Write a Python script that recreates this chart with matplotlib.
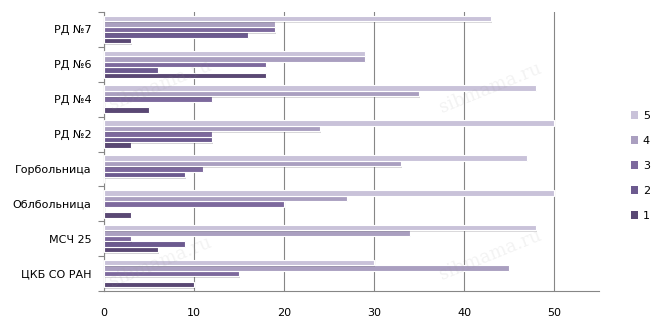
## horizontal grouped bars, hospitals by score
import numpy as np
import matplotlib
matplotlib.use('Agg')
import matplotlib.pyplot as plt
import matplotlib.patheffects as pe
from matplotlib.patches import Patch

# categories listed top -> bottom as in the picture
categories = ['РД №7', 'РД №6', 'РД №4', 'РД №2', 'Горбольница', 'Облбольница', 'МСЧ 25', 'ЦКБ СО РАН']
s1 = [3, 18, 5, 3, 0, 3, 6, 10]
s2 = [16, 6, 0, 12, 9, 0, 9, 0]
s3 = [19, 18, 12, 12, 11, 20, 3, 15]
s4 = [19, 29, 35, 24, 33, 27, 34, 45]
s5 = [43, 29, 48, 50, 47, 50, 48, 30]
series_labels = ['1', '2', '3', '4', '5']
x_ticks = [0, 10, 20, 30, 40, 50]

colors = ['#5a4874', '#6c5a8f', '#7d699d', '#aa9fc0', '#c9c2d9']

fig = plt.figure(figsize=(6.59, 3.34), dpi=100)
ax = fig.add_axes([104/659, 43/334, 495/659, 279/334])

# reverse so the first category ends up on top
cats = categories[::-1]
data = [s[::-1] for s in (s1, s2, s3, s4, s5)]
y = np.arange(len(cats))
bh = 0.158

shadow = [pe.SimplePatchShadow(offset=(1, -1), alpha=0.2), pe.Normal()]
for i, vals in enumerate(data):
    ax.barh(y + (i - 2) * bh, vals, height=bh, color=colors[i], edgecolor='white',
            linewidth=0.8, path_effects=shadow, zorder=3)

ax.set_xlim(0, 55)
ax.set_ylim(-0.5, len(cats) - 0.5)
ax.set_xticks(x_ticks)
ax.set_yticks(y)
ax.set_yticklabels(cats, fontsize=8)
ax.set_yticks(np.arange(-0.5, len(cats)), minor=True)
ax.tick_params(axis='y', which='major', length=0, pad=9)
ax.tick_params(axis='y', which='minor', length=4, color='#868686', width=0.8)
ax.tick_params(axis='x', length=0, pad=12, labelsize=8)
ax.grid(axis='x', color='#868686', linewidth=0.8, zorder=0)
ax.set_axisbelow(True)
for s in ['top', 'right']:
    ax.spines[s].set_visible(False)
for s in ['left', 'bottom']:
    ax.spines[s].set_color('#868686')
    ax.spines[s].set_linewidth(0.8)

handles = [Patch(facecolor=colors[i], edgecolor='none', label=series_labels[i]) for i in range(5)]
fig.legend(handles=handles[::-1], loc='center left', bbox_to_anchor=(625/659, 0.503),
           frameon=False, fontsize=8, handlelength=0.7, handleheight=0.7,
           handletextpad=0.4, labelspacing=1.35, borderpad=0)

# faint watermark
for px, py in [(160, 85), (490, 88), (160, 262), (490, 255)]:
    fig.text(px/659, 1 - py/334, 'sibmama.ru', fontsize=13, family='DejaVu Serif',
             color='#999999', alpha=0.12, rotation=22, ha='center', va='center')

plt.savefig('out.png', dpi=100)
